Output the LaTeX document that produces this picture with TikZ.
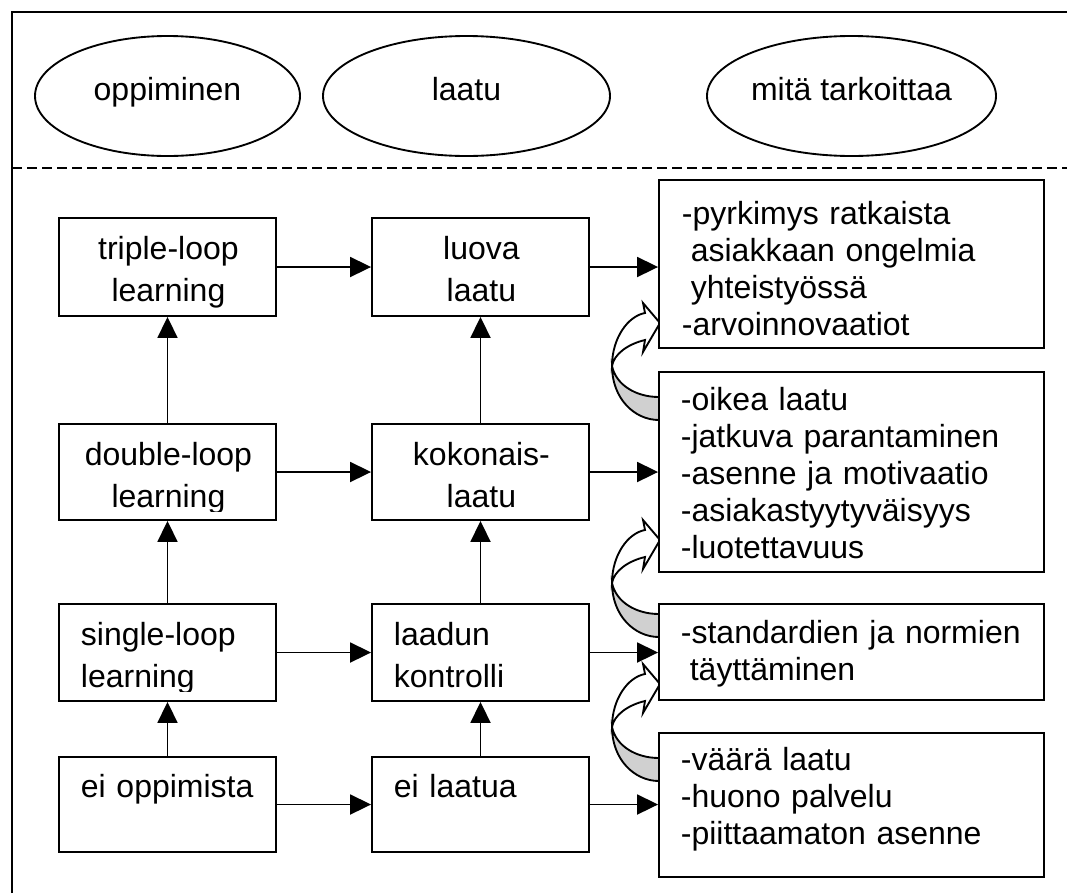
\documentclass[tikz,border=0pt]{standalone}
\usepackage{fontspec}
\setmainfont{Liberation Sans}
\usetikzlibrary{arrows.meta,shapes.geometric,fit}
\definecolor{backgray}{RGB}{208,208,208}
\begin{document}
\begin{tikzpicture}[x=0.75pt, y=-0.75pt, line width=1.4pt,
  every node/.style={inner sep=0pt, font=\fontsize{24}{27.75}\selectfont},
  oval/.style={draw, ellipse, minimum height=90pt, text height=12pt, text depth=6pt},
  box/.style={draw, fill=white, inner sep=0pt},
  ctext/.style={anchor=base west, text width=162.75pt, align=center, font=\fontsize{24}{31.5}\selectfont},
  ltext/.style={anchor=base west, text width=160pt, align=left, font=\fontsize{24}{31.5}\selectfont},
  rtext/.style={anchor=base west, text width=270pt, align=left},
  arr/.style={-{Triangle[length=15.75pt,width=15pt]}},
  pics/bentarrow/.style={code={
    % back face of the bent band (shaded)
    \filldraw[fill=backgray] (0,0) .. controls (0,32) and (22,54) .. (47,54)
      -- (47,31) .. controls (24,31) and (4,19) .. (0,0) -- cycle;
    % front face with the arrow head
    \filldraw[fill=white] (0,0) .. controls (0,-28) and (16,-50) .. (33,-53)
      -- (31,-63) -- (48,-43) -- (31,-14) -- (33,-26)
      .. controls (16,-22) and (2,-12) .. (0,0) -- cycle;
  }}
]
\useasboundingbox (0,0) rectangle (1067,893);

% frame and header separator
\draw (12,893) -- (12,12) -- (1067,12);
\draw[dash pattern=on 7.5pt off 3.75pt] (12,168) -- (1067,168);

% header ovals
\node[oval, minimum width=198.75pt] (h1) at (167.5,96) {oppiminen};
\node[oval, minimum width=215.25pt] (h2) at (466.5,96) {laatu};
\node[oval, minimum width=216.75pt] (h3) at (851.5,96) {mitä tarkoittaa};

% bent arrows between the description boxes
\pic at (612,366) {bentarrow};
\pic at (612,583) {bentarrow};
\pic at (612,727) {bentarrow};

% learning column
\node[box, fit={(59,218) (276,316)}] (a1) {};
\node[box, fit={(59,424) (276,520)}] (a2) {};
\node[box, fit={(59,604) (276,701)}] (a3) {};
\node[box, fit={(59,757) (276,852)}] (a4) {};
% quality column
\node[box, fit={(372,218) (589,316)}] (b1) {};
\node[box, fit={(372,424) (589,520)}] (b2) {};
\node[box, fit={(372,604) (589,701)}] (b3) {};
\node[box, fit={(372,757) (589,852)}] (b4) {};
% meaning column
\node[box, fit={(659,180) (1044,348)}] (c1) {};
\node[box, fit={(659,372) (1044,572)}] (c2) {};
\node[box, fit={(659,604) (1044,700)}] (c3) {};
\node[box, fit={(659,733) (1044,877)}] (c4) {};

% box texts
\node[ctext] (ta1) at (59,259) {triple-loop\\learning};
\begin{scope}
  \clip (59,424) rectangle (276,511);
  \node[ctext] (ta2) at (59,465) {double-loop\\learning};
\end{scope}
\begin{scope}
  \clip (59,604) rectangle (276,691);
  \node[ltext] (ta3) at (80,645) {single-loop\\learning};
\end{scope}
\node[ltext] (ta4) at (80,797) {ei oppimista};

\node[ctext] (tb1) at (372,259) {luova\\laatu};
\node[ctext] (tb2) at (372,465) {kokonais-\\laatu};
\node[ltext] (tb3) at (393,645) {laadun\\kontrolli};
\node[ltext] (tb4) at (393,797) {ei laatua};

\node[rtext] (tc1) at (681,224) {-pyrkimys ratkaista\\\hspace*{0.278em}asiakkaan ongelmia\\\hspace*{0.278em}yhteistyössä\\-arvoinnovaatiot};
\node[rtext] (tc2) at (680,410) {-oikea laatu\\-jatkuva parantaminen\\-asenne ja motivaatio\\-asiakastyytyväisyys\\-luotettavuus};
\node[rtext] (tc3) at (680,643) {-standardien ja normien\\\hspace*{0.278em}täyttäminen};
\node[rtext] (tc4) at (680,770) {-väärä laatu\\-huono palvelu\\-piittaamaton asenne};

% upward arrows
\draw[arr] (a4) -- (a3);
\draw[arr] (a3) -- (a2);
\draw[arr] (a2) -- (a1);
\draw[arr] (b4) -- (b3);
\draw[arr] (b3) -- (b2);
\draw[arr] (b2) -- (b1);

% rightward arrows
\draw[arr] (a1) -- (b1);
\draw[arr] (a2) -- (b2);
\draw[arr] (a3) -- (b3);
\draw[arr] (a4) -- (b4);
\draw[arr] (b1.east) -- (b1.east -| c1.west);
\draw[arr] (b2.east) -- (b2.east -| c2.west);
\draw[arr] (b3.east) -- (b3.east -| c3.west);
\draw[arr] (b4.east) -- (b4.east -| c4.west);
\end{tikzpicture}
\end{document}
